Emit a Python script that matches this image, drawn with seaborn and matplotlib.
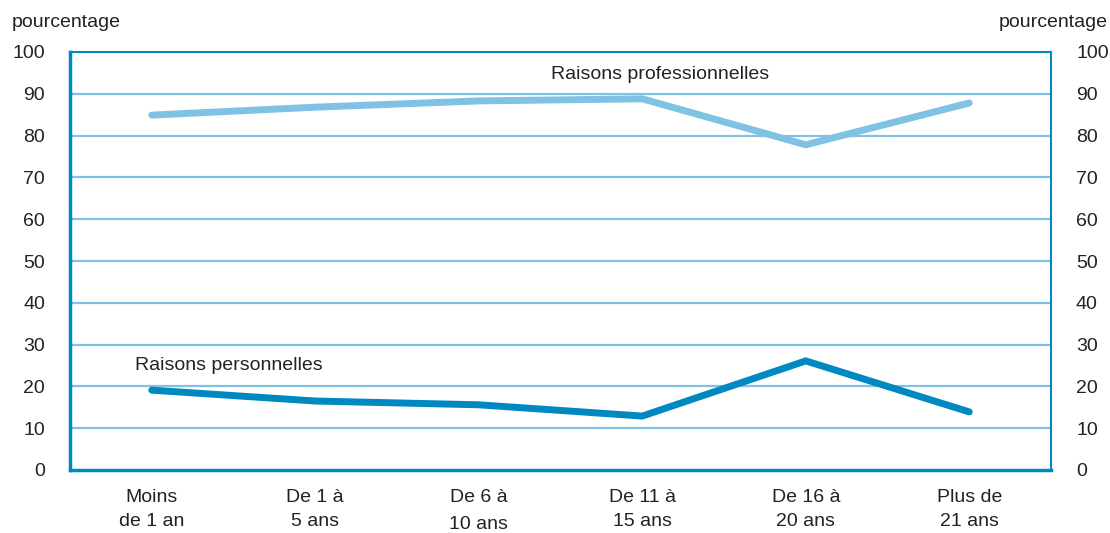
import matplotlib
matplotlib.use("Agg")
import matplotlib.pyplot as plt
import seaborn as sns
import pandas as pd

# data
categories = ["Moins\nde 1 an", "De 1 à\n5 ans", "De 6 à\n10 ans",
              "De 11 à\n15 ans", "De 16 à\n20 ans", "Plus de\n21 ans"]
professionnelles = [84.9, 86.8, 88.3, 88.8, 77.8, 87.8]
personnelles = [19.1, 16.5, 15.6, 12.9, 26.1, 13.9]
yticks = list(range(0, 101, 10))

sns.set_style("white")
plt.rcParams['font.family'] = ['Liberation Sans', 'DejaVu Sans']

dark = "#0088c0"
light = "#7fc2e3"
txt = "#222222"
fs = 14

df = pd.DataFrame({
    "x": list(range(len(categories))) * 2,
    "val": professionnelles + personnelles,
    "serie": ["pro"] * len(categories) + ["perso"] * len(categories),
})

fig = plt.figure(figsize=(11.1, 5.33), dpi=100)
ax = fig.add_axes([70 / 1110, 63 / 533, 981 / 1110, 418 / 533])

for y in yticks[1:-1]:
    ax.axhline(y, color=light, lw=1.6, zorder=1)

sns.lineplot(data=df, x="x", y="val", hue="serie",
             palette={"pro": light, "perso": dark}, linewidth=5,
             legend=False, ax=ax, zorder=3)
for line in ax.lines:
    line.set_solid_capstyle("round")
    line.set_solid_joinstyle("miter")

ax.set_xlim(-0.5, len(categories) - 0.5)
ax.set_ylim(0, 100)
ax.set_xlabel("")
ax.set_ylabel("")

ax.set_yticks(yticks)
ax.tick_params(axis="y", length=0, labelsize=fs, labelright=True,
               labelleft=True, pad=18, colors=txt)

# major ticks at category boundaries, labels at the centres
ax.set_xticks([i + 0.5 for i in range(len(categories) - 1)])
ax.set_xticklabels([])
ax.tick_params(axis="x", which="major", direction="in", length=10,
               width=2, color=dark)
ax.set_xticks(range(len(categories)), minor=True)
ax.set_xticklabels(categories, minor=True, linespacing=1.5)
ax.tick_params(axis="x", which="minor", length=0, labelsize=fs, pad=14,
               labelcolor=txt)
ax.get_xticklabels(minor=True)[2].set_linespacing(1.75)

for side in ["left", "bottom"]:
    ax.spines[side].set_color(dark)
    ax.spines[side].set_linewidth(2.5)
for side in ["top", "right"]:
    ax.spines[side].set_color(dark)
    ax.spines[side].set_linewidth(1.5)

ax.text(2.44, 94.5, "Raisons professionnelles", fontsize=fs, color=txt,
        ha="left", va="center")
ax.text(-0.10, 25, "Raisons personnelles", fontsize=fs, color=txt,
        ha="left", va="center")

fig.text(12 / 1110, 1 - 22 / 533, "pourcentage", fontsize=fs,
         color=txt, ha="left", va="center")
fig.text(1108 / 1110, 1 - 22 / 533, "pourcentage", fontsize=fs,
         color=txt, ha="right", va="center")

plt.savefig("out.png", dpi=100)
